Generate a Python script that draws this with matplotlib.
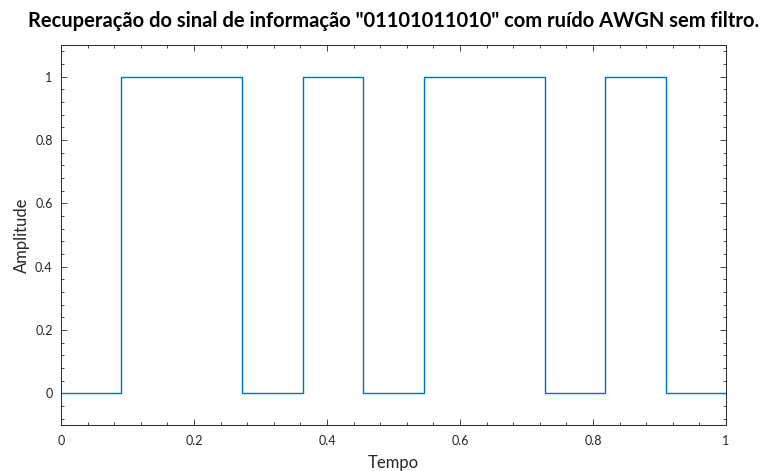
import matplotlib
matplotlib.use("Agg")
import matplotlib.pyplot as plt
import numpy as np
from matplotlib.ticker import MultipleLocator

bits = [0, 1, 1, 0, 1, 0, 1, 1, 0, 1, 0]
x_ticks = [0, 0.2, 0.4, 0.6, 0.8, 1]
y_ticks = [0, 0.2, 0.4, 0.6, 0.8, 1]

plt.rcParams["font.family"] = ["Lato", "DejaVu Sans"]

n = len(bits)
edges = np.arange(n + 1) / n
levels = bits + [bits[-1]]

fig = plt.figure(figsize=(7.75, 4.71), dpi=100)
ax = fig.add_axes([61 / 775, 1 - 425 / 471, 665 / 775, 380 / 471])

ax.step(edges, levels, where="post", color="#0072BD", linewidth=1.0)

ax.set_xlim(0, 1)
ax.set_ylim(-0.1, 1.1)
ax.set_xticks(x_ticks)
ax.set_xticklabels(["0", "0.2", "0.4", "0.6", "0.8", "1"])
ax.set_yticks(y_ticks)
ax.set_yticklabels(["0", "0.2", "0.4", "0.6", "0.8", "1"])
ax.xaxis.set_minor_locator(MultipleLocator(0.04))
ax.yaxis.set_minor_locator(MultipleLocator(0.04))
ax.tick_params(which="both", direction="in", top=True, right=True,
               colors="#262626", labelsize=9, width=0.6)
ax.tick_params(which="major", length=4.5)
ax.tick_params(which="minor", length=2.5)
ax.tick_params(axis="x", pad=7)
ax.tick_params(axis="y", pad=6)
for s in ax.spines.values():
    s.set_color("#262626")
    s.set_linewidth(0.7)

ax.set_xlabel("Tempo", fontsize=12, color="#262626", labelpad=6)
ax.set_ylabel("Amplitude", fontsize=12, color="#262626", labelpad=4)
ax.set_title('Recuperação do sinal de informação "01101011010" com ruído AWGN sem filtro.',
             fontsize=14.5, fontweight="bold", pad=13, color="black")

fig.savefig("out.png", dpi=100)
